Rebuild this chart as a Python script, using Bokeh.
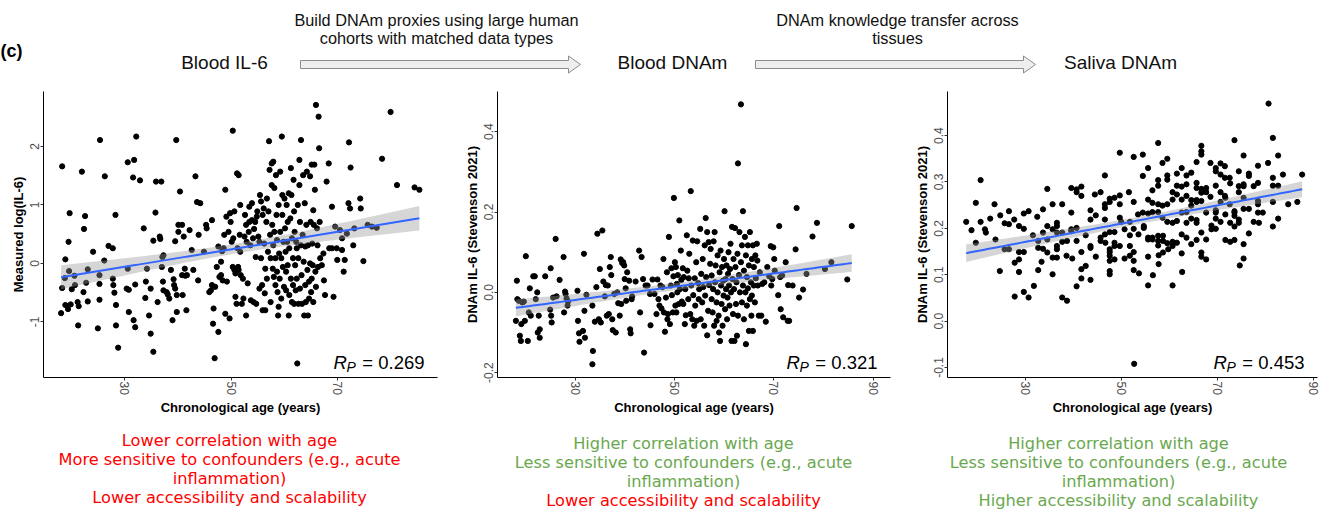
import numpy as np
from bokeh.plotting import figure
from bokeh.layouts import column, row
from bokeh.models import Range1d, FixedTicker, PrintfTickFormatter, ColumnDataSource
from bokeh.core.properties import value
from bokeh.embed import file_html
from bokeh.resources import INLINE

# ---------------------------------------------------------------- data
# Blood IL-6 (measured) vs chronological age
il6_age = [
    18.3, 18.3, 18.1, 18.9, 18.8, 19.5, 19.7, 19.6, 18.9, 19.4,
    20.1, 20.6, 20.7, 19.9, 21.2, 21.4, 21.3, 22.0, 22.4, 22.6,
    22.8, 23.1, 23.1, 22.3, 24.1, 25.0, 25.3, 25.3, 25.3, 25.4,
    26.3, 26.2, 27.0, 27.8, 27.8, 27.9, 28.1, 28.3, 28.4, 28.4,
    28.8, 30.6, 31.8, 32.2, 31.6, 32.9, 30.6, 30.4, 30.8, 30.8,
    31.7, 32.0, 32.0, 33.6, 33.9, 34.0, 34.2, 34.6, 34.9, 34.9,
    35.4, 35.4, 35.8, 35.9, 36.2, 36.6, 36.7, 36.9, 37.0, 37.1,
    37.3, 37.2, 37.3, 37.9, 38.1, 38.4, 38.7, 39.0, 39.2, 39.3,
    39.5, 39.5, 39.7, 39.8, 39.8, 40.1, 40.1, 40.4, 40.8, 40.8,
    40.9, 41.1, 41.3, 41.4, 41.6, 41.7, 42.2, 42.6, 42.9, 43.3,
    43.6, 44.2, 43.9, 43.8, 44.9, 45.3, 45.4, 45.9, 46.2, 46.4,
    46.4, 46.6, 46.7, 46.9, 47.0, 47.3, 47.6, 47.6, 47.8, 48.1,
    48.1, 48.3, 48.4, 48.6, 48.7, 48.9, 48.9, 49.1, 49.2, 49.5,
    49.7, 49.8, 49.9, 50.1, 50.3, 50.3, 50.4, 50.6, 50.6, 50.8,
    50.8, 51.0, 51.1, 51.2, 51.3, 51.4, 51.4, 51.6, 51.7, 51.7,
    51.8, 52.0, 52.2, 52.3, 52.5, 52.6, 52.8, 52.8, 52.9, 53.1,
    53.3, 53.4, 53.4, 53.6, 53.7, 53.9, 53.9, 54.1, 54.2, 54.3,
    54.5, 54.6, 54.7, 54.8, 54.9, 55.1, 55.3, 55.3, 55.4, 55.6,
    55.6, 55.8, 55.9, 55.9, 56.1, 56.2, 56.3, 56.4, 56.4, 56.6,
    56.7, 56.7, 56.9, 57.0, 57.1, 57.2, 57.3, 57.4, 57.4, 57.6,
    57.6, 57.7, 57.8, 57.9, 57.9, 58.0, 58.1, 58.1, 58.3, 58.3,
    58.4, 58.5, 58.6, 58.6, 58.7, 58.8, 58.9, 58.9, 59.0, 59.1,
    59.2, 59.2, 59.4, 59.4, 59.5, 59.6, 59.6, 59.7, 59.8, 59.9,
    60.0, 60.1, 60.2, 60.3, 60.3, 60.4, 60.5, 60.6, 60.6, 60.8,
    60.8, 60.9, 60.9, 61.1, 61.2, 61.2, 61.3, 61.4, 61.4, 61.6,
    61.6, 61.7, 61.8, 61.8, 61.9, 62.0, 62.1, 62.2, 62.3, 62.3,
    62.4, 62.5, 62.6, 62.6, 62.8, 62.8, 62.9, 62.9, 63.1, 63.1,
    63.2, 63.3, 63.4, 63.5, 63.6, 63.7, 63.8, 63.9, 63.9, 64.0,
    64.1, 64.2, 64.3, 64.4, 64.4, 64.6, 64.6, 64.8, 64.8, 64.9,
    65.0, 65.1, 65.1, 65.2, 65.3, 65.4, 65.4, 65.5, 65.6, 65.7,
    65.8, 65.9, 65.9, 66.1, 66.2, 66.3, 66.4, 66.5, 66.6, 66.7,
    67.0, 67.3, 67.4, 67.6, 67.9, 68.3, 68.4, 68.9, 68.9, 69.2,
    69.5, 69.8, 69.9, 70.4, 70.8, 70.8, 71.1, 71.3, 71.7, 72.0,
    72.1, 72.3, 72.4, 72.9, 73.1, 74.2, 74.3, 74.8, 75.6, 76.4,
    77.3, 78.3, 79.9, 81.1, 84.4, 85.3,
]
il6_log = [
    1.66, -0.42, -0.85, 0.07, -0.25, 0.37, 0.86, -0.13, -0.71, -0.78,
    -0.44, -0.21, -0.37, -0.70, -0.66, -0.73, -1.06, 1.57, 0.59, 0.81,
    -0.33, -0.10, -0.65, -0.49, 0.20, -1.11, -0.20, -0.35, -0.62, 2.11,
    1.49, 0.05, 0.30, 0.26, -0.26, -0.37, -0.50, 0.83, -0.71, -1.06,
    -1.44, 1.73, 1.77, 2.17, 1.47, 1.42, -0.09, -0.43, -0.45, -0.83,
    -0.97, -1.09, -0.36, 0.60, -0.59, -0.31, -0.09, -0.89, -1.20, -0.43,
    -1.51, 0.39, 0.87, 1.40, -0.66, 0.46, 0.42, 1.40, -0.06, 0.11,
    0.14, -0.31, -0.46, -0.49, -0.53, -0.60, -0.11, -0.97, -0.27, -0.37,
    -0.43, 0.38, 2.11, -0.83, -0.54, 0.54, 0.66, 1.23, 0.66, -0.20,
    -0.54, 0.46, -0.09, -0.21, -0.80, -0.20, 0.57, 0.23, -0.11, 1.49,
    1.05, 1.03, 0.49, -0.29, 0.20, 0.66, 0.60, -0.49, -0.46, 0.74,
    -0.37, -1.03, -0.77, -1.62, -0.40, -0.06, -1.17, 0.29, -0.23, -0.20,
    0.03, 0.21, -0.29, 0.26, 0.49, 1.26, -0.86, 0.80, -0.31, 0.54,
    -0.94, 0.86, 0.71, 0.37, 2.27, -0.06, 0.43, 0.89, -0.11, -0.17,
    -0.57, -0.69, 1.54, 0.26, -0.06, 1.51, -0.11, 0.49, 0.20, 1.00,
    -0.20, -0.69, -0.26, -0.60, 0.46, 0.83, -0.89, 0.66, 0.37, -0.34,
    0.54, 0.71, 0.97, 0.31, -0.63, 1.03, 0.74, 0.43, -0.66, 0.59,
    0.71, 0.11, -0.69, 0.80, 0.89, 0.46, -0.43, 0.37, 1.17, 1.06,
    0.09, -0.37, -0.80, 0.83, 0.94, 0.34, -0.51, -0.80, -0.09, 0.71,
    1.11, -0.26, 0.20, 0.89, 2.09, 1.60, 0.49, 0.09, -0.66, 1.71,
    1.34, 0.66, -0.09, 1.74, 0.31, -0.23, 1.29, 0.54, -0.37, 0.09,
    1.51, 0.83, 0.40, -0.14, -0.49, -0.89, -0.74, 1.00, 0.17, -0.26,
    1.57, 0.54, -0.60, 0.09, 2.17, 1.17, 0.83, -0.06, 0.37, -0.40,
    1.11, 0.60, 0.20, -0.14, -0.46, 1.00, 0.37, 0.71, -0.03, -0.89,
    1.20, -0.54, 0.26, 0.77, 1.63, -0.26, 1.17, -0.66, 0.43, 0.09,
    -0.37, 1.43, -0.69, 0.89, 0.54, -0.03, -0.46, 0.37, -0.26, 0.26,
    -1.71, 1.00, -0.69, 0.09, 1.77, 1.34, -0.43, 0.71, 0.31, 2.11,
    -0.20, -0.69, 0.49, 1.51, 0.03, -0.89, 1.03, -0.37, 0.29, -0.66,
    0.66, 1.57, -0.11, -0.89, 0.31, -0.60, -0.31, 1.49, 0.00, 0.71,
    -0.49, -0.26, 1.69, 0.34, -0.03, -0.66, 0.91, 0.66, 1.69, 1.26,
    -0.14, -0.40, 2.71, 0.60, 0.31, -0.06, 2.51, 1.97, 0.71, 0.09,
    -0.03, 0.17, -0.29, -0.54, 1.40, 1.71, 0.26, 0.97, 0.26, -0.57,
    0.63, 0.26, 0.06, 0.57, 0.43, 0.23, -0.14, 0.06, 0.51, 1.03,
    2.07, 0.94, 1.64, 0.31, 0.60, 1.11, 0.94, 0.04, 0.66, 0.63,
    0.61, 1.79, 2.59, 1.34, 1.30, 1.26,
]

# DNAm IL-6 score in blood vs chronological age
blood_age = [
    18.1, 18.3, 18.4, 18.7, 18.9, 19.1, 19.2, 19.4, 19.7, 19.9,
    20.1, 20.5, 20.7, 20.9, 21.1, 21.6, 21.9, 22.1, 22.4, 22.5,
    22.7, 22.9, 22.9, 24.0, 25.0, 25.1, 25.2, 25.3, 25.6, 26.1,
    26.3, 26.9, 27.7, 27.8, 28.0, 28.1, 28.3, 28.5, 28.6, 30.5,
    30.6, 30.8, 30.9, 31.6, 31.8, 31.9, 32.0, 32.3, 33.5, 33.6,
    33.5, 34.0, 34.3, 34.5, 34.8, 35.0, 35.2, 35.5, 35.7, 36.0,
    36.2, 36.4, 36.6, 36.8, 37.0, 37.2, 37.3, 37.5, 37.6, 37.9,
    38.2, 38.5, 38.7, 39.0, 39.2, 39.3, 39.5, 39.7, 39.9, 40.0,
    40.2, 40.3, 40.5, 40.9, 41.1, 41.2, 41.4, 41.5, 42.2, 42.9,
    43.1, 43.4, 43.7, 43.9, 44.2, 44.6, 45.1, 45.2, 45.6, 46.0,
    46.4, 46.6, 46.8, 47.0, 47.2, 47.4, 47.6, 47.8, 47.9, 48.1,
    48.3, 48.5, 48.6, 48.7, 48.9, 49.1, 49.3, 49.4, 49.5, 49.7,
    49.8, 49.9, 50.1, 50.2, 50.3, 50.4, 50.5, 50.6, 50.7, 50.9,
    51.0, 51.1, 51.3, 51.4, 51.5, 51.7, 51.8, 51.9, 52.1, 52.2,
    52.3, 52.5, 52.6, 52.8, 52.9, 53.0, 53.2, 53.3, 53.4, 53.6,
    53.7, 53.8, 54.0, 54.1, 54.2, 54.4, 54.5, 54.6, 54.8, 54.9,
    55.0, 55.2, 55.3, 55.4, 55.6, 55.7, 55.8, 56.0, 56.1, 56.2,
    56.3, 56.4, 56.6, 56.6, 56.8, 56.9, 57.0, 57.2, 57.3, 57.5,
    57.5, 57.7, 57.8, 57.9, 58.0, 58.1, 58.2, 58.3, 58.5, 58.5,
    58.7, 58.7, 58.9, 59.0, 59.1, 59.2, 59.3, 59.4, 59.5, 59.6,
    59.7, 59.8, 59.9, 60.0, 60.1, 60.2, 60.3, 60.4, 60.5, 60.6,
    60.7, 60.8, 60.9, 61.0, 61.1, 61.2, 61.3, 61.4, 61.5, 61.6,
    61.7, 61.8, 61.9, 62.0, 62.1, 62.2, 62.3, 62.4, 62.5, 62.6,
    62.7, 62.8, 62.8, 63.0, 63.1, 63.2, 63.4, 63.4, 63.6, 63.6,
    63.8, 63.8, 64.0, 64.0, 64.2, 64.3, 64.4, 64.4, 64.6, 64.6,
    64.8, 64.8, 65.0, 65.0, 65.2, 65.2, 65.4, 65.5, 65.6, 65.6,
    65.8, 65.8, 66.0, 66.0, 66.2, 66.3, 66.4, 66.6, 66.7, 66.8,
    67.0, 67.2, 67.5, 67.7, 68.1, 68.4, 68.7, 69.1, 69.4, 69.5,
    69.7, 69.9, 70.1, 70.2, 70.9, 71.1, 71.3, 71.4, 71.7, 71.9,
    72.4, 72.8, 72.9, 73.1, 73.8, 74.4, 74.6, 75.1, 75.9, 76.6,
    77.8, 78.7, 80.3, 81.6, 84.8, 85.7,
]
blood_il6 = [
    -0.071, 0.029, -0.017, -0.021, -0.108, -0.121, -0.079, -0.025, -0.023, -0.071,
    0.090, -0.121, -0.050, 0.010, -0.058, 0.040, 0.040, -0.017, 0.000, -0.100,
    -0.058, -0.092, -0.113, 0.040, -0.043, 0.060, -0.058, -0.075, -0.013, 0.133,
    -0.010, 0.031, 0.088, -0.050, 0.002, -0.004, -0.015, -0.033, -0.023, 0.004,
    -0.071, -0.102, -0.123, -0.096, 0.096, -0.046, -0.113, -0.006, -0.033, -0.146,
    -0.179, -0.073, 0.013, 0.146, -0.067, 0.058, -0.075, 0.154, 0.027, -0.010,
    0.018, -0.058, 0.017, -0.054, 0.063, 0.088, 0.043, -0.067, -0.094, -0.004,
    -0.100, 0.000, -0.027, -0.058, 0.082, -0.029, 0.073, 0.075, 0.067, 0.033,
    0.010, -0.021, 0.050, 0.029, -0.092, -0.102, -0.017, -0.010, 0.027, 0.104,
    -0.050, 0.088, 0.033, -0.150, 0.017, 0.017, -0.004, -0.082, 0.032, -0.004,
    -0.054, 0.032, -0.017, -0.033, 0.017, -0.040, 0.013, 0.083, -0.050, -0.098,
    -0.013, 0.050, -0.067, -0.054, 0.138, -0.079, 0.017, 0.060, -0.007, -0.050,
    0.040, 0.235, 0.075, -0.033, 0.063, -0.050, 0.021, 0.000, 0.043, -0.029,
    0.179, 0.008, 0.104, 0.031, -0.023, 0.060, -0.029, 0.038, -0.079, 0.008,
    -0.057, 0.142, 0.054, -0.017, 0.035, 0.096, -0.054, 0.252, 0.017, -0.067,
    0.129, -0.007, -0.083, 0.035, -0.033, 0.075, -0.071, 0.127, 0.023, -0.017,
    0.008, 0.158, -0.067, 0.046, -0.025, 0.083, 0.013, -0.083, 0.117, -0.008,
    0.185, 0.038, -0.107, 0.150, -0.046, 0.125, 0.018, 0.071, 0.108, -0.017,
    0.042, -0.050, 0.008, 0.127, -0.083, 0.150, 0.025, 0.067, -0.025, -0.071,
    0.092, 0.000, -0.058, -0.100, 0.050, -0.121, 0.104, 0.017, -0.029, 0.063,
    -0.083, 0.029, -0.008, 0.083, 0.202, -0.042, 0.033, 0.008, 0.067, -0.067,
    -0.013, 0.046, 0.100, 0.017, -0.033, 0.058, 0.121, 0.000, -0.121, 0.163,
    0.033, -0.054, 0.083, 0.008, -0.121, 0.160, 0.063, -0.029, 0.025, -0.108,
    0.096, 0.321, -0.058, 0.043, 0.150, 0.000, 0.468, 0.075, -0.025, 0.117,
    0.017, 0.202, -0.067, 0.054, 0.138, 0.000, -0.129, 0.092, -0.033, 0.038,
    0.117, 0.010, -0.096, 0.067, -0.017, 0.150, 0.025, -0.058, 0.083, -0.008,
    0.117, -0.096, 0.017, 0.063, -0.025, 0.092, 0.035, 0.121, 0.079, 0.017,
    -0.058, 0.050, -0.058, 0.021, 0.025, -0.073, 0.063, 0.040, 0.115, 0.017,
    0.033, 0.112, 0.083, 0.054, -0.007, 0.165, 0.038, -0.042, 0.042, -0.062,
    0.075, -0.071, 0.018, -0.071, 0.017, 0.107, 0.210, -0.013, 0.007, 0.046,
    0.139, 0.173, 0.058, 0.075, 0.032, 0.165,
]

# DNAm IL-6 score in saliva vs chronological age
saliva_age = [
    17.6, 18.7, 19.6, 19.6, 20.6, 20.6, 21.5, 21.7, 22.6, 23.5,
    23.7, 24.6, 24.7, 25.6, 25.6, 26.5, 26.5, 26.5, 27.6, 27.7,
    27.7, 28.6, 28.6, 28.6, 28.6, 29.6, 29.6, 29.6, 29.6, 30.6,
    30.6, 31.5, 31.7, 32.4, 32.6, 32.6, 32.6, 33.3, 33.6, 33.6,
    33.6, 34.5, 34.5, 34.5, 34.5, 35.6, 35.6, 35.6, 35.6, 36.5,
    36.5, 36.5, 36.5, 36.5, 36.5, 37.6, 37.6, 37.6, 37.6, 38.5,
    38.6, 38.6, 39.5, 39.5, 39.5, 39.5, 39.7, 40.6, 40.6, 40.6,
    40.6, 40.6, 41.6, 41.6, 41.6, 41.6, 41.6, 42.5, 42.5, 43.5,
    43.5, 43.5, 43.5, 43.5, 44.4, 44.6, 44.6, 45.6, 45.6, 45.6,
    46.5, 46.5, 46.5, 46.5, 46.5, 46.6, 47.5, 47.5, 47.5, 47.5,
    47.5, 47.5, 47.5, 47.5, 47.5, 48.5, 48.5, 48.5, 48.5, 48.5,
    49.6, 49.6, 49.6, 49.6, 49.6, 49.9, 50.6, 50.6, 51.5, 51.7,
    51.7, 51.7, 51.7, 52.5, 52.5, 52.5, 52.5, 52.5, 52.5, 52.6,
    53.4, 53.5, 53.6, 54.4, 54.4, 54.4, 54.6, 54.6, 55.5, 55.5,
    55.5, 55.5, 55.5, 55.5, 55.5, 56.4, 56.4, 56.4, 56.4, 56.4,
    56.5, 57.6, 57.6, 57.6, 57.6, 57.6, 57.6, 57.6, 57.6, 57.7,
    57.7, 58.5, 58.5, 58.5, 58.6, 58.6, 58.6, 59.5, 59.5, 59.5,
    59.5, 59.5, 59.5, 59.7, 60.6, 60.6, 60.6, 60.6, 60.6, 60.6,
    61.5, 61.5, 61.5, 61.5, 61.5, 62.5, 62.5, 62.5, 62.5, 62.5,
    62.5, 62.6, 63.5, 63.5, 63.5, 63.5, 63.5, 63.5, 64.5, 64.5,
    64.5, 64.5, 64.5, 65.6, 65.6, 65.6, 65.6, 65.6, 65.6, 65.6,
    65.6, 66.6, 66.6, 66.6, 66.6, 66.6, 66.6, 66.6, 66.6, 66.6,
    67.6, 67.6, 67.6, 67.6, 67.6, 68.5, 68.5, 68.7, 68.7, 69.6,
    69.6, 69.6, 69.6, 69.6, 69.6, 69.6, 70.6, 70.6, 70.6, 70.6,
    70.6, 71.5, 71.5, 71.5, 71.6, 71.6, 71.6, 72.5, 72.6, 72.5,
    72.6, 72.6, 73.5, 73.5, 73.5, 73.5, 73.5, 73.5, 74.4, 74.4,
    74.4, 74.4, 74.4, 74.6, 75.4, 75.4, 75.4, 75.4, 75.4, 75.4,
    75.4, 76.5, 76.5, 76.5, 76.5, 77.5, 77.5, 78.4, 78.4, 78.4,
    78.4, 78.4, 78.6, 79.4, 80.5, 80.6, 81.5, 81.5, 81.5, 81.5,
    81.5, 82.6, 82.6, 82.6, 83.6, 84.7, 86.6, 87.6,
]
saliva_il6 = [
    0.214, 0.196, 0.169, 0.255, 0.304, 0.214, 0.198, 0.191, 0.221, 0.252,
    0.176, 0.108, 0.228, 0.211, 0.155, 0.237, 0.209, 0.155, 0.219, 0.126,
    0.053, 0.205, 0.149, 0.133, 0.106, 0.232, 0.199, 0.149, 0.063, 0.237,
    0.051, 0.185, 0.076, 0.225, 0.173, 0.158, 0.110, 0.128, 0.241, 0.191,
    0.156, 0.285, 0.205, 0.176, 0.148, 0.252, 0.198, 0.137, 0.101, 0.212,
    0.205, 0.191, 0.162, 0.155, 0.137, 0.252, 0.191, 0.171, 0.051, 0.141,
    0.173, 0.044, 0.287, 0.234, 0.198, 0.194, 0.135, 0.284, 0.278, 0.201,
    0.173, 0.075, 0.290, 0.270, 0.149, 0.112, 0.092, 0.185, 0.119, 0.239,
    0.219, 0.162, 0.158, 0.089, 0.273, 0.228, 0.139, 0.278, 0.180, 0.173,
    0.314, 0.252, 0.244, 0.219, 0.187, 0.169, 0.264, 0.257, 0.192, 0.155,
    0.149, 0.141, 0.130, 0.108, 0.101, 0.266, 0.192, 0.169, 0.162, 0.133,
    0.363, 0.271, 0.252, 0.223, 0.162, 0.214, 0.135, 0.198, 0.278, 0.185,
    0.162, 0.141, 0.214, 0.354, 0.257, 0.199, 0.149, 0.130, 0.110, -0.092,
    0.230, 0.187, 0.103, 0.359, 0.313, 0.234, 0.205, 0.201, 0.330, 0.262,
    0.232, 0.180, 0.176, 0.139, 0.077, 0.282, 0.255, 0.235, 0.180, 0.176,
    0.099, 0.384, 0.304, 0.292, 0.252, 0.235, 0.184, 0.173, 0.163, 0.142,
    0.123, 0.341, 0.249, 0.223, 0.184, 0.173, 0.148, 0.350, 0.314, 0.305,
    0.252, 0.214, 0.168, 0.155, 0.278, 0.262, 0.212, 0.171, 0.162, 0.077,
    0.318, 0.292, 0.273, 0.216, 0.169, 0.330, 0.290, 0.262, 0.234, 0.187,
    0.146, 0.106, 0.314, 0.295, 0.270, 0.235, 0.212, 0.180, 0.320, 0.261,
    0.249, 0.221, 0.166, 0.343, 0.298, 0.287, 0.261, 0.257, 0.218, 0.212,
    0.175, 0.378, 0.366, 0.359, 0.285, 0.277, 0.259, 0.191, 0.148, 0.139,
    0.287, 0.278, 0.234, 0.176, 0.133, 0.341, 0.268, 0.206, 0.198, 0.330,
    0.323, 0.292, 0.239, 0.234, 0.221, 0.199, 0.340, 0.316, 0.278, 0.214,
    0.257, 0.334, 0.309, 0.270, 0.266, 0.175, 0.230, 0.309, 0.297, 0.252,
    0.212, 0.171, 0.390, 0.237, 0.234, 0.227, 0.204, 0.175, 0.323, 0.291,
    0.278, 0.219, 0.212, 0.120, 0.357, 0.295, 0.291, 0.266, 0.242, 0.166,
    0.135, 0.318, 0.313, 0.242, 0.189, 0.291, 0.214, 0.335, 0.298, 0.259,
    0.252, 0.234, 0.212, 0.234, 0.341, 0.469, 0.395, 0.309, 0.292, 0.257,
    0.204, 0.357, 0.292, 0.221, 0.316, 0.252, 0.257, 0.316,
]

pearson_r = ["0.269", "0.321", "0.453"]
y_titles = ["Measured log(IL-6)", "DNAm IL-6 (Stevenson 2021)", "DNAm IL-6 (Stevenson 2021)"]
x_title = "Chronological age (years)"

stage_names = ["Blood IL-6", "Blood DNAm", "Saliva DNAm"]
transfer_notes = [
    ["Build DNAm proxies using large human", "cohorts with matched data types"],
    ["DNAm knowledge transfer across", "tissues"],
]

RED = "#ff0000"
GREEN = "#6aa84f"
panel_notes = [
    [("Lower correlation with age", RED),
     ("More sensitive to confounders (e.g., acute", RED),
     ("inflammation)", RED),
     ("Lower accessibility and scalability", RED)],
    [("Higher correlation with age", GREEN),
     ("Less sensitive to confounders (e.g., acute", GREEN),
     ("inflammation)", GREEN),
     ("Lower accessibility and scalability", RED)],
    [("Higher correlation with age", GREEN),
     ("Less sensitive to confounders (e.g., acute", GREEN),
     ("inflammation)", GREEN),
     ("Higher accessibility and scalability", GREEN)],
]

SANS = "Liberation Sans"
NOTE_FONT = "DejaVu Sans"
W = 1328
HEAD_H, PLOT_H, FOOT_H = 80, 340, 92


def blank(width, height):
    f = figure(width=width, height=height, x_range=Range1d(0, width), y_range=Range1d(height, 0),
               output_backend="svg", toolbar_location=None, min_border=0,
               x_axis_location=None, y_axis_location=None)
    f.outline_line_color = None
    f.grid.visible = False
    return f


def lm_band(x, y, n_grid=80):
    """Least-squares line with a 95% confidence band, as geom_smooth(method='lm')."""
    x = np.asarray(x, float)
    y = np.asarray(y, float)
    n = len(x)
    slope, icpt = np.polyfit(x, y, 1)
    grid = np.linspace(x.min(), x.max(), n_grid)
    fit = icpt + slope * grid
    resid = y - (icpt + slope * x)
    s = np.sqrt(resid @ resid / (n - 2))
    sxx = ((x - x.mean()) ** 2).sum()
    se = s * np.sqrt(1.0 / n + (grid - x.mean()) ** 2 / sxx)
    return grid, fit, fit - 1.966 * se, fit + 1.966 * se


def scatter_panel(age, score, xr, yr, xticks, yticks, yfmt, ytitle, r_text, width, left, right):
    p = figure(width=width, height=PLOT_H, x_range=Range1d(*xr), y_range=Range1d(*yr),
               output_backend="svg", toolbar_location=None,
               min_border_left=left, min_border_right=right, min_border_top=11, min_border_bottom=43)
    p.outline_line_color = None
    p.grid.visible = False

    src = ColumnDataSource(dict(age=age, score=score))
    p.scatter("age", "score", source=src, size=5.2, color="black")

    grid, fit, lo, hi = lm_band(age, score)
    p.varea(x=grid, y1=lo, y2=hi, fill_color="#999999", fill_alpha=0.4)
    p.line(grid, fit, line_color="#3366ff", line_width=2)

    for ax in (p.xaxis[0], p.yaxis[0]):
        ax.axis_line_color = "black"
        ax.axis_line_width = 1
        ax.major_tick_out = 3
        ax.major_tick_in = 0
        ax.major_tick_line_color = "#333333"
        ax.minor_tick_line_color = None
        ax.major_label_text_font = SANS
        ax.major_label_text_font_size = "12px"
        ax.major_label_text_color = "#4d4d4d"
        ax.major_label_standoff = 1
        ax.axis_label_text_font = SANS
        ax.axis_label_text_font_size = "13px"
        ax.axis_label_text_font_style = "bold"
        ax.axis_label_text_color = "black"
        ax.axis_label_standoff = 2

    p.xaxis.ticker = FixedTicker(ticks=xticks)
    p.xaxis.major_label_orientation = "vertical"
    p.xaxis.axis_label = x_title
    p.yaxis.ticker = FixedTicker(ticks=yticks)
    p.yaxis.formatter = PrintfTickFormatter(format=yfmt)
    p.yaxis.major_label_orientation = "parallel"
    p.yaxis.axis_label = ytitle

    # Pearson correlation, anchored to the lower-right corner of the frame
    cx, cy = [xr[1]], [yr[0]]
    p.text(x=cx, y=cy, text=["= " + r_text], x_offset=-13, y_offset=-15,
           text_align="right", text_baseline="alphabetic",
           text_font=value(SANS), text_font_size="18.5px", text_color="black")
    p.text(x=cx, y=cy, text=["R"], x_offset=-104, y_offset=-15,
           text_align="left", text_baseline="alphabetic", text_font_style="italic",
           text_font=value(SANS), text_font_size="18.5px", text_color="black")
    p.text(x=cx, y=cy, text=["P"], x_offset=-91, y_offset=-11,
           text_align="left", text_baseline="alphabetic", text_font_style="italic",
           text_font=value(SANS), text_font_size="14px", text_color="black")
    return p


# ---------------------------------------------------------------- header
head = blank(W, HEAD_H)
head.text(x=[0], y=[50], text=["(c)"], text_align="left", text_baseline="middle",
          text_font=value(SANS), text_font_size="18px", text_font_style="bold", text_color="black")
stage_x = [224, 672, 1120]
head.text(x=stage_x, y=[62] * 3, text=stage_names, text_align="center", text_baseline="middle",
          text_font=value(SANS), text_font_size="19px", text_color="#111111")

arrow_spans = [(300, 580), (755, 1035)]
arrow_xs, arrow_ys = [], []
ac = 64
for x0, x1 in arrow_spans:
    hx = x1 - 12
    arrow_xs.append([x0, hx, hx, x1, hx, hx, x0])
    arrow_ys.append([ac - 4, ac - 4, ac - 8.5, ac, ac + 8.5, ac + 4, ac + 4])
head.patches(arrow_xs, arrow_ys, fill_color="#eeeeee", line_color="#8c8c8c", line_width=1)

note_x = [436, 897]
for nx, lines in zip(note_x, transfer_notes):
    head.text(x=[nx] * len(lines), y=[19, 37][:len(lines)], text=lines,
              text_align="center", text_baseline="middle",
              text_font=value(SANS), text_font_size="16.3px", text_color="#111111")

# ---------------------------------------------------------------- panels
p1 = scatter_panel(il6_age, il6_log, (14.8, 88.7), (-1.95, 2.94), [30, 50, 70], [-1, 0, 1, 2], "%d",
                   y_titles[0], pearson_r[0], 450, 43, 13)
p2 = scatter_panel(blood_age, blood_il6, (14.4, 93.5), (-0.212, 0.5), [30, 50, 70, 90],
                   [-0.2, 0.0, 0.2, 0.4], "%.1f", y_titles[1], pearson_r[1], 450, 47, 10)
p3 = scatter_panel(saliva_age, saliva_il6, (13.7, 90.8), (-0.1215, 0.495), [30, 50, 70, 90],
                   [-0.1, 0.0, 0.1, 0.2, 0.3, 0.4], "%.1f", y_titles[2], pearson_r[2], 428, 47, 11)

# ---------------------------------------------------------------- footer
foot = blank(W, FOOT_H)
foot_x = [229, 683, 1118]
foot_y = [[20, 39, 58, 77], [23, 42, 61, 80], [23, 42, 61, 80]]
for fx, fys, notes in zip(foot_x, foot_y, panel_notes):
    foot.text(x=[fx] * len(notes), y=fys, text=[t for t, _ in notes],
              text_color=[c for _, c in notes], text_align="center", text_baseline="middle",
              text_font=value(NOTE_FONT), text_font_size="16.2px")

layout = column(head, row(p1, p2, p3, spacing=0), foot, spacing=0)
open("out.html", "w").write(file_html(layout, INLINE))
